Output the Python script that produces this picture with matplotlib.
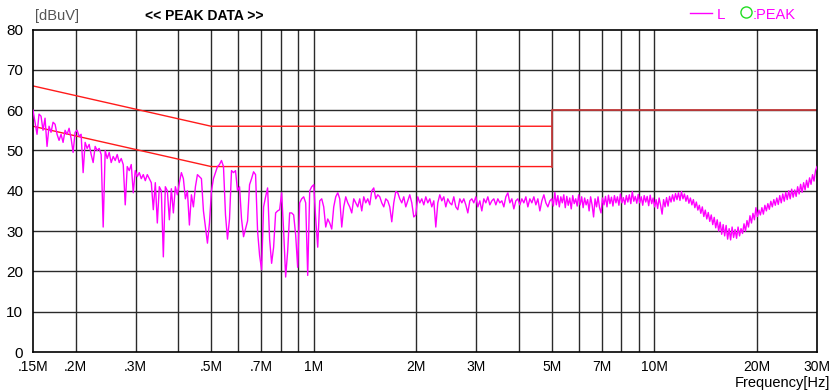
import numpy as np
import matplotlib
matplotlib.use("Agg")
import matplotlib.pyplot as plt
from matplotlib.lines import Line2D

# ---- measured peak trace (dBuV), sampled on log-spaced sweep segments ----
seg_a_range = (0.15, 1.0)   # MHz
seg_a_levels = [
    60, 57, 54, 59, 58.5, 55, 58, 51, 56, 54.5, 57, 56.5, 54, 52.5, 54, 52, 55, 54, 55.5, 53,
    49.5, 54.5, 55, 53.5, 54, 44.5, 52, 50.5, 51.5, 49, 47, 51, 50, 50.5, 49, 31, 50, 48,
    49.5, 47, 48.5, 47.5, 49, 47, 48, 46.5, 36.5, 46, 45, 46.5, 39.5, 45, 43.5, 44.5, 43, 44,
    42.5, 44, 43, 42, 35.3, 42, 32, 41, 40, 23.6, 41, 40, 32.8, 40.5, 34.5, 41, 39, 42, 44.5,
    43, 38, 40, 31.5, 39, 36, 41, 44, 43.5, 43, 35, 31, 27, 32, 40, 43, 44.5, 46, 46.5, 47.5,
    46, 34, 28, 33, 45, 44.5, 45, 40, 41, 33, 28.6, 30.5, 32.5, 41.5, 43, 44.7, 44, 30, 24,
    20.4, 36, 38.5, 40.7, 28, 22, 26, 34.5, 35, 35.3, 39.5, 30, 18.6, 25, 34.5, 34.5, 34, 29,
    21, 37, 38, 38.5, 37, 19, 40, 41, 41.5,
]

seg_b_range = (1.0, 5.0)    # MHz
seg_b_levels = [
    41.5, 33, 26, 37.5, 38, 36, 31, 33, 32, 30.5, 36, 38.5, 39.5, 38, 31, 36, 38.5, 37, 36,
    34.5, 38, 37, 36, 38, 35, 38.5, 37, 38, 36.5, 40, 40.7, 38, 39, 38.5, 37, 36, 38, 37.5,
    36, 32.3, 37, 39.8, 39.5, 38, 37, 38.5, 36, 37.5, 39, 37, 33.5, 34, 38.5, 37, 38, 36.5,
    38.5, 37, 38, 36, 37.5, 31, 37, 39, 37.5, 38.5, 36, 38, 37, 36.5, 38.5, 36, 35.3, 38, 37,
    38, 36.5, 34.5, 37.5, 38, 37, 38.5, 36, 37.5, 35, 38, 37, 38.5, 36.5, 37.5, 38, 36.5, 38,
    37, 37.5, 36, 38.5, 39.5, 37, 38, 35.5, 37.5, 38, 36.5, 38, 37, 38.5, 36, 38, 37, 38.5,
    36.5, 38, 35, 37.5, 39, 37, 36, 37.5, 38,
]

seg_c_range = (5.0, 30.0)   # MHz
seg_c_levels = [
    38, 36.2, 39.6, 36.5, 38.8, 36, 38.5, 37, 39, 35.8,
    38.6, 36.4, 38.2, 35.5, 38.8, 36.8, 38, 36.2, 39, 36.5,
    38.5, 35.8, 38.2, 36.5, 37.8, 35, 38.5, 36.5, 33.5, 38,
    36, 38.5, 35.8, 34.5, 38.2, 36.5, 38.6, 36, 38.9, 36.8,
    38.4, 36.2, 38.8, 37, 38.5, 36.4, 39.2, 37, 38.3, 36.6,
    38.8, 37.2, 39, 36.8, 39.8, 37.4, 38.6, 36.9, 39.1, 37,
    38.5, 36.4, 38.8, 37.2, 38.6, 36.3, 38.9, 36.8, 38.2, 36,
    37.8, 35.6, 38.2, 36.4, 34.2, 37.8, 36, 38.3, 36.2, 38.6,
    37.2, 39, 37.4, 39.3, 37.8, 39.5, 37.6, 39.8, 38, 39.2,
    37.4, 38.8, 36.9, 38.2, 36.5, 37.8, 35.8, 37.2, 35.2, 36.4,
    34.4, 36, 33.6, 35.2, 33, 34.6, 32.4, 34, 31.6, 33.4,
    30.8, 32.8, 30, 32.2, 29.2, 31.6, 28.8, 31.4, 28, 30.6,
    27.8, 31, 28.4, 30.4, 28.2, 31, 28.8, 30.6, 29.4, 31.8,
    30, 32.6, 31, 33.8, 32, 34.4, 32.8, 35.8, 33.6, 35.2,
    34, 35.8, 34.2, 36.4, 35, 36.8, 35.4, 37.4, 36, 37.8,
    36.4, 38.2, 36.6, 38.8, 37, 39.2, 37.4, 39.6, 37.8, 40,
    38, 40.4, 38.4, 40.2, 38.6, 41, 39.2, 41.6, 39.6, 42,
    40.2, 42.6, 40.8, 43.2, 41.6, 44, 42.4, 45, 46,
]

# ---- limit lines (MHz, dBuV) ----
qp_freq = [0.15, 0.5, 5.0]
qp_level = [66, 56, 56]
av_freq = [0.15, 0.5, 5.0]
av_level = [56, 46, 46]
hf_freq = [5.0, 5.0, 30.0]
hf_level = [46, 60, 60]

# ---- axis ticks ----
major_ticks = [0.15, 0.2, 0.3, 0.5, 0.7, 1, 2, 3, 5, 7, 10, 20, 30]
major_labels = [".15M", ".2M", ".3M", ".5M", ".7M", "1M", "2M", "3M", "5M", "7M",
                "10M", "20M", "30M"]
minor_ticks = [0.4, 0.6, 0.8, 0.9, 4, 6, 8, 9]
y_ticks = [0, 10, 20, 30, 40, 50, 60, 70, 80]

TRACE = "#ff00ff"
GRID = "#2a2a2a"
narrow = ["Liberation Sans", "DejaVu Sans"]
plain = ["Liberation Sans", "DejaVu Sans"]

W, H = 834, 391
fig = plt.figure(figsize=(W / 100, H / 100), dpi=100)
ax = fig.add_axes([33 / W, (H - 352) / H, (817 - 33) / W, (352 - 29.5) / H])

ax.set_xscale("log")
ax.set_xlim(0.15, 30)
ax.set_ylim(0, 80)

# grid
for f in major_ticks[1:-1] + minor_ticks:
    ax.axvline(f, color=GRID, lw=1.0, zorder=1)
for v in y_ticks[1:-1]:
    ax.axhline(v, color=GRID, lw=1.0, zorder=1)

# limits
ax.plot(qp_freq, qp_level, color="#ff1a1a", lw=1.0, zorder=2)
ax.plot(av_freq, av_level, color="#ff1a1a", lw=1.0, zorder=2)
ax.plot(hf_freq, hf_level, color="#c23a3a", lw=1.3, zorder=2)

# trace
freq = np.concatenate([
    np.geomspace(*seg_a_range, len(seg_a_levels)),
    np.geomspace(*seg_b_range, len(seg_b_levels)),
    np.geomspace(*seg_c_range, len(seg_c_levels)),
])
level = np.concatenate([seg_a_levels, seg_b_levels, seg_c_levels])
ax.plot(freq, level, color=TRACE, lw=1.0, zorder=3)

for s in ax.spines.values():
    s.set_color("black")
    s.set_linewidth(1.2)

ax.set_xticks(major_ticks)
ax.set_xticklabels(major_labels, family=narrow, fontsize=10)
ax.set_xticks([], minor=True)
ax.set_yticks(y_ticks)
ax.set_yticklabels([str(v) for v in y_ticks], family=plain, fontsize=11)
ax.tick_params(axis="both", length=0)
ax.tick_params(axis="x", pad=6)
ax.tick_params(axis="y", pad=7)

# header texts
fig.text(35 / W, 1 - 16 / H, "[dBuV]", family=narrow, fontsize=10.5, color="#555555",
         va="center", ha="left")
fig.text(204 / W, 1 - 16 / H, "<< PEAK DATA >>", family=narrow, fontsize=10,
         fontweight="bold", color="black", va="center", ha="center")
fig.add_artist(Line2D([690 / W, 712 / W], [1 - 13 / H, 1 - 13 / H], color=TRACE, lw=1.0))
fig.text(717 / W, 1 - 15 / H, "L", family=narrow, fontsize=11, color=TRACE,
         va="center", ha="left")
fig.add_artist(Line2D([746 / W], [1 - 12 / H], marker="o", markersize=8,
                      markerfacecolor="none", markeredgecolor="#22dd22", lw=0))
fig.text(753 / W, 1 - 15 / H, ":PEAK", family=narrow, fontsize=10.5, color=TRACE,
         va="center", ha="left")
fig.text(830 / W, 1 - 383 / H, "Frequency[Hz]", family=narrow, fontsize=10.5,
         color="black", va="center", ha="right")

fig.savefig("out.png", dpi=100)
